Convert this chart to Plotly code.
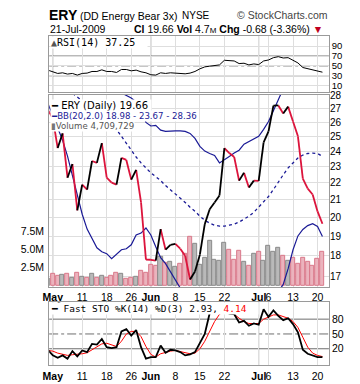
import math
import plotly.graph_objects as go

W, H = 360, 384

dates = ["2009-04-30",
         "2009-05-01", "2009-05-04", "2009-05-05", "2009-05-06", "2009-05-07", "2009-05-08",
         "2009-05-11", "2009-05-12", "2009-05-13", "2009-05-14", "2009-05-15",
         "2009-05-18", "2009-05-19", "2009-05-20", "2009-05-21", "2009-05-22",
         "2009-05-26", "2009-05-27", "2009-05-28", "2009-05-29",
         "2009-06-01", "2009-06-02", "2009-06-03", "2009-06-04", "2009-06-05",
         "2009-06-08", "2009-06-09", "2009-06-10", "2009-06-11", "2009-06-12",
         "2009-06-15", "2009-06-16", "2009-06-17", "2009-06-18", "2009-06-19",
         "2009-06-22", "2009-06-23", "2009-06-24", "2009-06-25", "2009-06-26",
         "2009-06-29", "2009-06-30", "2009-07-01", "2009-07-02",
         "2009-07-06", "2009-07-07", "2009-07-08", "2009-07-09", "2009-07-10",
         "2009-07-13", "2009-07-14", "2009-07-15", "2009-07-16", "2009-07-17",
         "2009-07-20", "2009-07-21"]

closes = [26.9,
          26.3, 24.22, 25.22, 22.32, 23.18, 20.40,
          21.90, 21.60, 23.37, 23.25, 24.55,
          22.32, 22.02, 21.90, 23.57, 23.44,
          22.20, 22.81, 20.85, 17.81,
          17.80, 17.76, 19.37, 18.30, 18.55,
          18.60, 18.35, 18.00, 16.86, 17.23,
          18.05, 19.64, 20.46, 20.85, 21.25,
          24.22, 23.89, 23.63, 22.14, 22.62,
          21.72, 22.14, 22.12, 24.61,
          25.36, 27.22, 27.24, 26.64, 27.15,
          26.06, 25.02, 22.26, 21.66, 21.31,
          20.34, 19.66]

volume_m = [0.9,
            1.55, 1.37, 1.47, 1.6, 1.1, 1.78,
            1.2, 1.1, 1.55, 1.0, 1.37,
            1.1, 1.37, 1.68, 1.55, 0.92,
            1.1, 1.2, 2.0, 1.78,
            2.9, 2.7, 3.9, 3.15, 3.2,
            2.5, 3.0, 4.4, 6.7, 5.8,
            2.8, 3.8, 6.1, 3.5, 3.4,
            5.9, 4.9, 3.5, 4.75, 3.3,
            2.7, 4.3, 4.7, 3.4,
            5.5, 4.7, 5.2, 4.1, 3.4,
            3.8, 3.05, 3.8, 3.3, 2.7,
            3.65, 4.71]

bb_upper = [35.0,
            34.5, 34.0, 33.2, 32.6, 32.0, 31.5,
            31.0, 30.5, 30.0, 29.6, 29.3,
            29.0, 28.7, 28.4, 28.2, 28.0,
            27.8, 27.5, 27.0, 25.99,
            25.74, 25.78, 25.45, 25.36, 25.39,
            25.39, 25.39, 25.36, 25.22, 24.88,
            24.33, 24.02, 23.86, 23.73, 23.25,
            23.44, 23.67, 23.89, 24.08, 24.48,
            24.66, 24.82, 25.02, 25.50,
            26.06, 26.85, 27.74, 28.6, 29.4,
            29.9, 30.1, 30.0, 29.7, 29.3,
            28.8, 28.36]

bb_mid = [29.5,
          29.3, 29.0, 28.8, 28.5, 28.2, 27.9,
          27.6, 27.3, 27.0, 26.7, 26.5,
          26.2, 25.92, 25.50, 25.02, 24.48,
          24.08, 23.63, 23.25, 22.93,
          22.62, 22.38, 22.14, 21.84, 21.60,
          21.31, 21.08, 20.85, 20.57, 20.35,
          20.07, 19.85, 19.69, 19.58, 19.53,
          19.53, 19.58, 19.64, 19.75, 19.91,
          20.07, 20.29, 20.57, 20.85,
          21.19, 21.60, 22.08, 22.50, 22.93,
          23.25, 23.57, 23.76, 23.86, 23.89,
          23.86, 23.67]

bb_lower = [27.4,
            26.49, 25.50, 24.75, 23.69, 22.44, 21.31,
            20.18, 19.37, 18.85, 18.40, 18.20,
            18.10, 17.85, 18.05, 18.30, 18.35,
            18.55, 19.06, 19.16, 19.43,
            19.06, 18.45, 17.90, 17.61, 17.23,
            16.91, 16.54, 16.1, 15.6, 15.1,
            14.7, 14.4, 14.2, 14.0, 13.9,
            13.9, 14.0, 14.1, 14.3, 14.5,
            14.8, 15.1, 15.4, 15.7,
            15.9, 16.1, 16.3, 16.63, 17.37,
            18.30, 19.01, 19.35, 19.56, 19.66,
            19.51, 18.98]

rsi = [41.4,
       38.0, 34.7, 36.0, 33.4, 34.7, 31.4,
       34.7, 35.4, 38.7, 38.7, 42.0,
       38.7, 38.7, 36.7, 42.7, 42.7,
       40.0, 41.4, 38.0, 36.0,
       32.0, 31.4, 36.0, 34.7, 36.0,
       35.4, 34.7, 34.0, 35.4, 38.7,
       44.0, 48.0, 49.4, 50.0, 52.0,
       61.4, 60.0, 60.0, 54.7, 55.4,
       52.0, 54.0, 52.7, 60.0,
       62.0, 66.7, 68.7, 66.0, 66.7,
       61.4, 56.0, 46.7, 44.0, 42.0,
       40.0, 37.25]

sto_k = [18.0,
         6.6, 1.9, 6.6, 0.0, 15.2, 4.6,
         16.6, 13.2, 29.9, 28.6, 39.9,
         23.2, 21.2, 23.2, 55.2, 59.9,
         46.6, 57.9, 23.2, 0.0,
         3.2, 3.2, 26.6, 11.9, 17.9,
         16.6, 13.2, 6.6, 8.6, 13.2,
         33.2, 49.9, 92.0, 96.0, 97.0,
         100.0, 91.0, 90.0, 73.2, 76.6,
         66.6, 71.2, 68.6, 99.9,
         84.6, 97.9, 86.6, 77.9, 81.9,
         69.9, 53.2, 17.9, 9.9, 6.6,
         3.2, 2.93]

sto_d = [16.6,
         15.2, 11.2, 8.6, 6.6, 7.9, 8.6,
         9.9, 11.9, 17.9, 23.2, 29.9,
         31.2, 27.9, 24.6, 35.2, 49.9,
         55.2, 55.2, 44.6, 24.6,
         8.6, 3.2, 9.9, 13.2, 15.2,
         16.6, 14.6, 11.2, 9.9, 11.2,
         19.9, 35.2, 56.6, 75.2, 89.9,
         96.0, 96.0, 90.0, 82.0, 75.2,
         71.2, 71.2, 71.2, 79.9,
         84.6, 88.6, 88.6, 84.6, 81.9,
         75.2, 63.2, 43.3, 23.2, 11.2,
         6.6, 4.14]

tick_dates = ["2009-05-01", "2009-05-11", "2009-05-18", "2009-05-26", "2009-06-01", "2009-06-08",
              "2009-06-15", "2009-06-22", "2009-07-01", "2009-07-06", "2009-07-13", "2009-07-20"]
tick_labels = ["<b>May</b>", "11", "18", "26", "<b>Jun</b>", "8", "15", "22", "<b>Jul</b>", "6", "13", "20"]
price_ticks = [17, 18, 19, 20, 21, 22, 23, 24, 25, 26, 27, 28]
vol_ticks = [2.5e6, 5.0e6, 7.5e6]
vol_tick_labels = ["2.5M", "5.0M", "7.5M"]
rsi_ticks = [10, 30, 50, 70, 90]
sto_ticks = [20, 50, 80]

# ---------------------------------------------------------------------------
xs = list(range(len(dates)))
tickvals = [dates.index(d) for d in tick_dates]
month_starts = [i for i in range(1, len(dates)) if dates[i][5:7] != dates[i - 1][5:7]]

UP = "#000000"
DOWN = "#dc143c"
NAVY = "#1a1a96"
GRID = "#dedede"
MONTH = "#a8a8a8"
REF = "#6e6e6e"


def px(x):
    return x / W


def py(y):
    return 1 - y / H


X_DOM = [px(43), px(328.3)]
RSI_DOM = [py(88.5), py(31.7)]
MAIN_DOM = [py(286), py(91)]
STO_DOM = [py(365), py(301)]
X_RANGE = [0.26, 57.32]

up_x, up_y, dn_x, dn_y = [], [], [], []
for i in range(1, len(closes)):
    if closes[i] >= closes[i - 1]:
        up_x += [xs[i - 1], xs[i], None]
        up_y += [closes[i - 1], closes[i], None]
    else:
        dn_x += [xs[i - 1], xs[i], None]
        dn_y += [closes[i - 1], closes[i], None]

vol_fill, vol_line = [], []
for i in range(len(closes)):
    if i == 0 or closes[i] >= closes[i - 1]:
        vol_fill.append("#b9b9b9")
        vol_line.append("#8a8a8a")
    else:
        vol_fill.append("#ebb3bd")
        vol_line.append("#d9788a")

fig = go.Figure()

# Volume (base axis of main panel)
fig.add_trace(go.Bar(x=xs, y=[v * 1e6 for v in volume_m], marker=dict(color=vol_fill, line=dict(color=vol_line, width=1)),
                     width=0.82, xaxis="x", yaxis="y", showlegend=False, hoverinfo="skip"))
# Bollinger bands
fig.add_trace(go.Scatter(x=xs, y=bb_upper, mode="lines", line=dict(color=NAVY, width=1.2),
                         xaxis="x", yaxis="y3", showlegend=False))
fig.add_trace(go.Scatter(x=xs, y=bb_lower, mode="lines", line=dict(color=NAVY, width=1.2),
                         xaxis="x", yaxis="y3", showlegend=False))
fig.add_trace(go.Scatter(x=xs, y=bb_mid, mode="lines", line=dict(color=NAVY, width=1.3, dash="dot"),
                         xaxis="x", yaxis="y3", showlegend=False))
# Price line, coloured by direction
fig.add_trace(go.Scatter(x=dn_x, y=dn_y, mode="lines", line=dict(color=DOWN, width=1.8),
                         xaxis="x", yaxis="y3", showlegend=False, connectgaps=False))
fig.add_trace(go.Scatter(x=up_x, y=up_y, mode="lines", line=dict(color=UP, width=1.8),
                         xaxis="x", yaxis="y3", showlegend=False, connectgaps=False))
# RSI
fig.add_trace(go.Scatter(x=xs, y=rsi, mode="lines", line=dict(color="#000000", width=1),
                         xaxis="x2", yaxis="y2", showlegend=False))
# Stochastics
fig.add_trace(go.Scatter(x=xs, y=sto_d, mode="lines", line=dict(color="#ff0000", width=1),
                         xaxis="x3", yaxis="y4", showlegend=False))
fig.add_trace(go.Scatter(x=xs, y=sto_k, mode="lines", line=dict(color="#000000", width=1.8),
                         xaxis="x3", yaxis="y4", showlegend=False))

tickfont = dict(family="Liberation Sans, Arial", size=10.5, color="#000")
axfont = dict(family="Liberation Sans, Arial", size=10.5, color="#000")
pricefont = dict(family="Liberation Sans, Arial", size=10, color="#000")
rsifont = dict(family="Liberation Sans, Arial", size=9.5, color="#000")

common_x = dict(domain=X_DOM, range=X_RANGE, tickvals=tickvals, showgrid=True, gridcolor=GRID, gridwidth=1,
                zeroline=False, showline=True, linecolor="#9a9a9a", linewidth=1, mirror=True, ticks="",
                tickangle=0, fixedrange=True)

fig.update_layout(
    width=W, height=H, margin=dict(l=0, r=0, t=0, b=0),
    paper_bgcolor="white", plot_bgcolor="white", bargap=0,
    xaxis=dict(common_x, anchor="y", ticktext=tick_labels, showticklabels=True, tickfont=tickfont,
               ticklabelstandoff=0),
    xaxis2=dict(common_x, anchor="y2", showticklabels=False),
    xaxis3=dict(common_x, anchor="y4", ticktext=tick_labels, showticklabels=True, tickfont=tickfont,
                ticklabelstandoff=1),
    yaxis=dict(domain=MAIN_DOM, anchor="x", range=[-0.27e6, 26.4e6], side="left", tickvals=vol_ticks,
               ticktext=vol_tick_labels, showgrid=False, zeroline=False, showline=True, linecolor="#9a9a9a",
               mirror=True, tickfont=axfont, ticks="", ticklabelstandoff=2),
    yaxis3=dict(overlaying="y", anchor="x", side="right", type="log",
                range=[math.log10(16.50), math.log10(28.05)], tickvals=price_ticks,
                ticktext=[str(t) for t in price_ticks], showgrid=True, gridcolor=GRID, zeroline=False,
                tickfont=pricefont, ticks="", showline=False),
    yaxis2=dict(domain=RSI_DOM, anchor="x2", range=[-3.6, 110], side="right", tickvals=rsi_ticks,
                showgrid=True, gridcolor=GRID, zeroline=False, showline=True, linecolor="#9a9a9a",
                mirror=True, tickfont=rsifont, ticks=""),
    yaxis4=dict(domain=STO_DOM, anchor="x3", range=[-13.4, 114.6], side="right", tickvals=sto_ticks,
                showgrid=False, zeroline=False, showline=True, linecolor="#9a9a9a",
                mirror=True, tickfont=axfont, ticks=""),
)

shapes = []
# month separators in every panel
for m in month_starts:
    for xr, dom in (("x", MAIN_DOM), ("x2", RSI_DOM), ("x3", STO_DOM)):
        shapes.append(dict(type="line", xref=xr, yref="paper", x0=m, x1=m, y0=dom[0], y1=dom[1],
                           line=dict(color=MONTH, width=1), layer="below"))
# RSI reference levels
for lvl, dash in ((30, "solid"), (50, "dashdot"), (70, "solid")):
    shapes.append(dict(type="line", xref="paper", yref="y2", x0=X_DOM[0], x1=X_DOM[1], y0=lvl, y1=lvl,
                       line=dict(color=REF, width=1, dash=dash), layer="below"))
# Stochastic reference levels
for lvl, dash in ((20, "solid"), (50, "dashdot"), (80, "solid")):
    shapes.append(dict(type="line", xref="paper", yref="y4", x0=X_DOM[0], x1=X_DOM[1], y0=lvl, y1=lvl,
                       line=dict(color=REF, width=1, dash=dash), layer="below"))
fig.update_layout(shapes=shapes)


def note(text, x, y, size=10, color="#000", family="Liberation Sans, Arial", bg=None, anchor="left"):
    return dict(text=text, x=px(x), y=py(y), xref="paper", yref="paper", xanchor=anchor, yanchor="middle",
                showarrow=False, font=dict(size=size, color=color, family=family),
                bgcolor=bg, borderpad=0)


mono = "DejaVu Sans Mono"
dv = "DejaVu Sans"
ann = [
    note("<b>ERY</b>", 42, 10, size=14),
    note("(DD Energy Bear 3x)", 73, 11, size=10.5),
    note("NYSE", 177, 11, size=10),
    note("© StockCharts.com", 328, 10, size=10.5, color="#444", anchor="right"),
    note("21-Jul-2009", 43, 24, size=10.5),
    note("<b>Cl</b> 19.66 <b>Vol</b> 4.7<span style='font-size:8px'>M</span> <b>Chg</b> -0.68 (-3.36%) "
         "<span style='color:#c00020'>▼</span>", 128, 24, size=10.5),
    # RSI legend
    note("<span style='color:#555'>▲</span>RSI(14) 37.25  ", 44, 38.5, size=10, family=mono, bg="white"),
    # main legend
    note("<b>━</b> ERY (Daily) 19.66 ", 44, 101.5, size=10, family=dv, bg="white"),
    note("<b>━</b>BB(20,2.0) 18.98 - 23.67 - 28.36", 44, 112, size=8.6, family=dv, color=NAVY, bg="white"),
    note("<span style='color:#777'>▮</span>Volume 4,709,729", 44, 123, size=8.6, family=dv, color="#555", bg="white"),
    # stochastic legend
    note("<b>━</b> Fast STO %K(14) %D(3) 2.93, <span style='color:#ff0000'>4.14</span>  ", 44, 307.5, size=9.5,
         family=mono, bg="white"),
]
fig.update_layout(annotations=ann)

fig.write_html("out.html", config={"displayModeBar": False},
               post_script="document.body.style.margin='0px';document.body.style.overflow='hidden';")
